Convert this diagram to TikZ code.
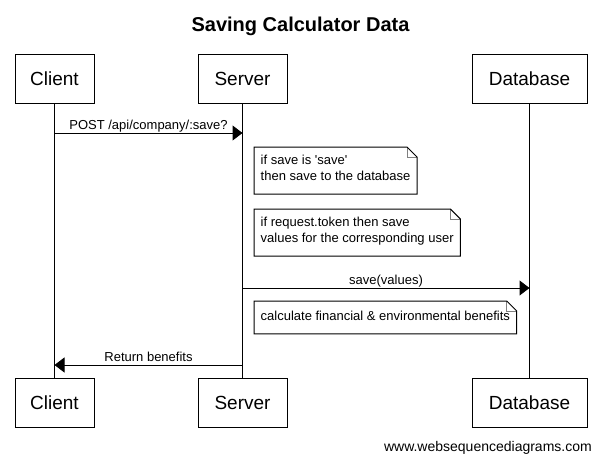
\documentclass[tikz,border=0pt]{standalone}
\usepackage{fontspec}
\setmainfont{Liberation Sans}
\usetikzlibrary{arrows.meta}

\newcommand{\actorfont}{\fontsize{19}{23}\selectfont}
\newcommand{\msgfont}{\fontsize{13}{16}\selectfont}

\tikzset{
  actor/.style={draw, line width=1pt, minimum height=49pt, inner sep=0pt,
    text height=13.6pt, text depth=0pt, font=\actorfont},
  msg/.style={line width=1pt, -{Triangle[length=10pt,width=15pt]}},
  lbl/.style={anchor=base, yshift=3.5pt, inner sep=0pt, font=\msgfont},
  note/.style={anchor=north west, align=left, inner xsep=6.5pt, inner ysep=8.25pt,
    font=\msgfont, execute at begin node=\strut, execute at end node=\strut}
}

\begin{document}
\begin{tikzpicture}[x=1pt,y=-1pt]
      \useasboundingbox (0,0) rectangle (601,461);

      \node[anchor=base, inner sep=0pt, font=\fontsize{20}{24}\selectfont\bfseries]
        (title) at (300.5,31) {Saving Calculator Data};

      %%%%%%%%%%%%%%%%%%%%%%%%%%%%%%%%%%%%%%%%%%%%%%%%%%%%%%%%%%%%%%%%%%%%%%%%%%%
      %%%%  Participants and lifelines
      \foreach \p/\x/\w/\t in {client/54.5/79/Client,server/242.5/89/Server,database/529.5/115/Database}
       {\node[actor, minimum width=\w pt] (\p top) at (\x,78.5) {\t};
        \node[actor, minimum width=\w pt] (\p bot) at (\x,402.5) {\t};
        \draw[line width=1pt] (\p top.south) -- (\p bot.north);
      };

      %%%%%%%%%%%%%%%%%%%%%%%%%%%%%%%%%%%%%%%%%%%%%%%%%%%%%%%%%%%%%%%%%%%%%%%%%%%
      %%%%  Messages
      \coordinate (postA) at (clienttop |- 0,133);
      \coordinate (postB) at (servertop |- 0,133);
      \coordinate (saveA) at (servertop |- 0,288);
      \coordinate (saveB) at (databasetop |- 0,288);
      \coordinate (retA) at (servertop |- 0,365);
      \coordinate (retB) at (clienttop |- 0,365);

      \draw[msg] (postA) -- node[lbl] {POST /api/company/:save?} (postB);
      \draw[msg] (saveA) -- node[lbl] {save(values)} (saveB);
      \draw[msg] (retA) -- node[lbl] {Return benefits} (retB);

      %%%%%%%%%%%%%%%%%%%%%%%%%%%%%%%%%%%%%%%%%%%%%%%%%%%%%%%%%%%%%%%%%%%%%%%%%%%
      %%%%  Notes
      \node[note] (note1) at (254,147) {if save is \textquotesingle save\textquotesingle\\then save to the database};
      \node[note] (note2) at (254,209) {if request.token then save\\values for the corresponding user};
      \node[note] (note3) at (254,301) {calculate financial \& environmental benefits};

      \foreach \n in {note1,note2,note3}
       {\draw[gray, line width=1pt] ([xshift=-10pt]\n.north east)
          -- ([xshift=-10pt,yshift=-10pt]\n.north east) -- ([yshift=-10pt]\n.north east);
        \draw[line width=1pt] (\n.north west) -- ([xshift=-10pt]\n.north east)
          -- ([yshift=-10pt]\n.north east) -- (\n.south east) -- (\n.south west) -- cycle;
      };

      \node[anchor=base east, inner sep=0pt, font=\fontsize{14}{17}\selectfont]
        (credit) at (592,451) {www.websequencediagrams.com};
    \end{tikzpicture}
\end{document}
